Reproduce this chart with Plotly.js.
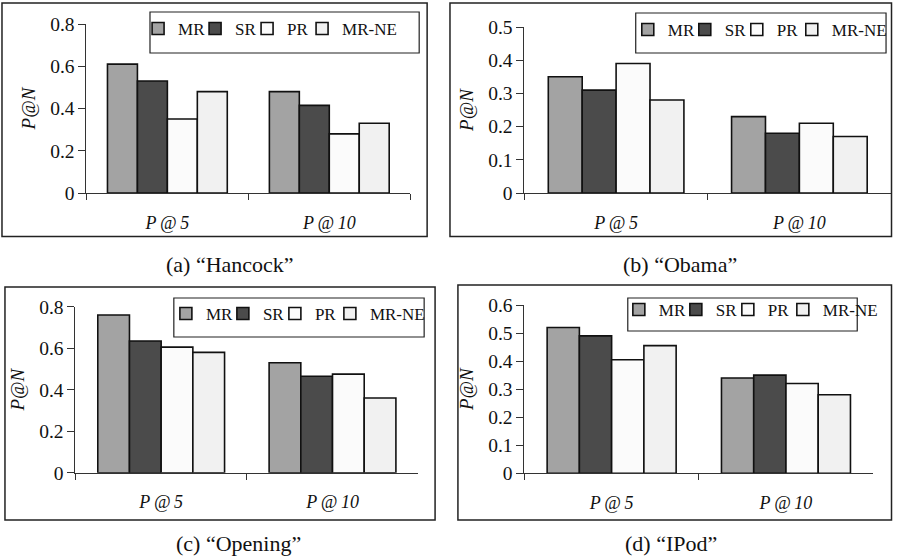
<!DOCTYPE html>
<html><head><meta charset="utf-8">
<script src="https://cdn.plot.ly/plotly-3.0.1.min.js"></script>
<style>html,body{margin:0;padding:0;background:#fff}#chart{width:899px;height:558px}</style>
</head><body><div id="chart"></div>
<script>
// ---- data ----
const categories = ["P@5", "P@10"];
const tickLabels = ["P\u2009@\u20095", "P\u2009@\u200910"];
const seriesNames = ["MR", "SR", "PR", "MR-NE"];
const captions = ["(a) “Hancock”", "(b) “Obama”", "(c) “Opening”", "(d) “IPod”"];
const yTitle = "P@N";

const hancockMR = [0.61, 0.48];
const hancockSR = [0.53, 0.415];
const hancockPR = [0.35, 0.28];
const hancockMRNE = [0.48, 0.33];

const obamaMR = [0.35, 0.23];
const obamaSR = [0.31, 0.18];
const obamaPR = [0.39, 0.21];
const obamaMRNE = [0.28, 0.17];

const openingMR = [0.76, 0.53];
const openingSR = [0.635, 0.465];
const openingPR = [0.605, 0.475];
const openingMRNE = [0.58, 0.36];

const ipodMR = [0.52, 0.34];
const ipodSR = [0.49, 0.35];
const ipodPR = [0.405, 0.32];
const ipodMRNE = [0.455, 0.28];

const yMax = [0.8, 0.5, 0.8, 0.6];
const yStep = [0.2, 0.1, 0.2, 0.1];

// ---- styling / layout ----
const W = 899, H = 558;
const px = x => x / W;
const py = y => 1 - y / H;
const FONT = "Liberation Serif";
const colors = ["#a3a3a3", "#4b4b4b", "#fbfbfb", "#f1f1f1"];
const legendEntryWidths = [12, 7, 10, 62];

const panelSeries = [
  [hancockMR, hancockSR, hancockPR, hancockMRNE],
  [obamaMR, obamaSR, obamaPR, obamaMRNE],
  [openingMR, openingSR, openingPR, openingMRNE],
  [ipodMR, ipodSR, ipodPR, ipodMRNE]
];

// geometry in pixels
const plotBox = [
  {x0: 87, x1: 413, y0: 24, y1: 193},
  {x0: 528, x1: 897, y0: 27, y1: 193},
  {x0: 76, x1: 421, y0: 306.7, y1: 472.7},
  {x0: 528, x1: 879, y0: 305, y1: 473.3}
];
const frameBox = [
  {x0: 2, x1: 430, y0: 3, y1: 236.5},
  {x0: 453, x1: 897.5, y0: 3, y1: 236.5},
  {x0: 5, x1: 438, y0: 287, y1: 520},
  {x0: 461, x1: 897.5, y0: 285, y1: 520}
];
const legendBox = [
  {x0: 151, x1: 422, y0: 12, y1: 53, sym: 159, ty: 27},
  {x0: 640, x1: 892, y0: 13, y1: 53, sym: 652, ty: 28},
  {x0: 175, x1: 427, y0: 298, y1: 337, sym: 187, ty: 312},
  {x0: 632, x1: 863, y0: 298, y1: 331, sym: 643, ty: 308}
];
const captionPos = [
  {x: 232, y: 264}, {x: 685, y: 264}, {x: 240, y: 543}, {x: 676, y: 543}
];

const traces = [];
const layout = {
  width: W, height: H,
  margin: {l: 0, r: 0, t: 0, b: 0},
  paper_bgcolor: "#fff", plot_bgcolor: "#fff",
  barmode: "group", bargap: 0.26, bargroupgap: 0,
  font: {family: FONT, color: "#111"},
  shapes: [], annotations: []
};

panelSeries.forEach((series, p) => {
  const n = p + 1;
  const xa = n === 1 ? "x" : "x" + n;
  const ya = n === 1 ? "y" : "y" + n;
  const lg = n === 1 ? "legend" : "legend" + n;
  series.forEach((vals, s) => {
    traces.push({
      type: "bar", x: categories, y: vals, name: seriesNames[s],
      xaxis: xa, yaxis: ya, legend: lg, legendwidth: legendEntryWidths[s],
      marker: {color: colors[s], line: {color: "#111", width: 1.6}},
      hoverinfo: "skip"
    });
  });
  const b = plotBox[p];
  layout["xaxis" + (n === 1 ? "" : n)] = {
    domain: [px(b.x0), px(b.x1)], anchor: ya,
    type: "category", tickvals: categories, ticktext: tickLabels,
    showline: true, linecolor: "#333", linewidth: 1,
    ticks: "outside", tickson: "boundaries", ticklen: 6, tickcolor: "#333",
    showgrid: false, zeroline: false, fixedrange: true,
    tickfont: {family: FONT, size: 18, style: "italic", color: "#111"},
    ticklabelstandoff: 13
  };
  layout["yaxis" + (n === 1 ? "" : n)] = {
    domain: [py(b.y1), py(b.y0)], anchor: xa,
    range: [0, yMax[p]], dtick: yStep[p], tick0: 0,
    showline: true, linecolor: "#333", linewidth: 1,
    ticks: "outside", ticklen: 7, tickcolor: "#333",
    showgrid: false, zeroline: false, fixedrange: true,
    tickfont: {family: FONT, size: 19.5, color: "#111"},
    title: {text: yTitle, font: {family: FONT, size: 19, style: "italic", color: "#111"}, standoff: 9}
  };
  const lb = legendBox[p];
  layout[lg] = {
    orientation: "h", x: px(lb.sym - 20), xanchor: "left",
    y: py(lb.ty - 16), yanchor: "top",
    bgcolor: "rgba(0,0,0,0)", borderwidth: 0,
    font: {family: FONT, size: 17, color: "#111"}
  };
  layout.shapes.push({type: "rect", xref: "paper", yref: "paper",
    x0: px(lb.x0), x1: px(lb.x1), y0: py(lb.y1), y1: py(lb.y0),
    line: {color: "#222", width: 1.2}, fillcolor: "rgba(0,0,0,0)"});
  const f = frameBox[p];
  layout.shapes.push({type: "rect", xref: "paper", yref: "paper",
    x0: px(f.x0), x1: px(f.x1), y0: py(f.y1), y1: py(f.y0),
    line: {color: "#222", width: 1.5}, fillcolor: "rgba(0,0,0,0)"});
  const c = captionPos[p];
  layout.annotations.push({text: captions[p], xref: "paper", yref: "paper",
    x: px(c.x), y: py(c.y), xanchor: "center", yanchor: "middle", showarrow: false,
    font: {family: FONT, size: 22, color: "#111"}});
});

Plotly.newPlot("chart", traces, layout, {displayModeBar: false, staticPlot: true});
</script>
</body></html>
